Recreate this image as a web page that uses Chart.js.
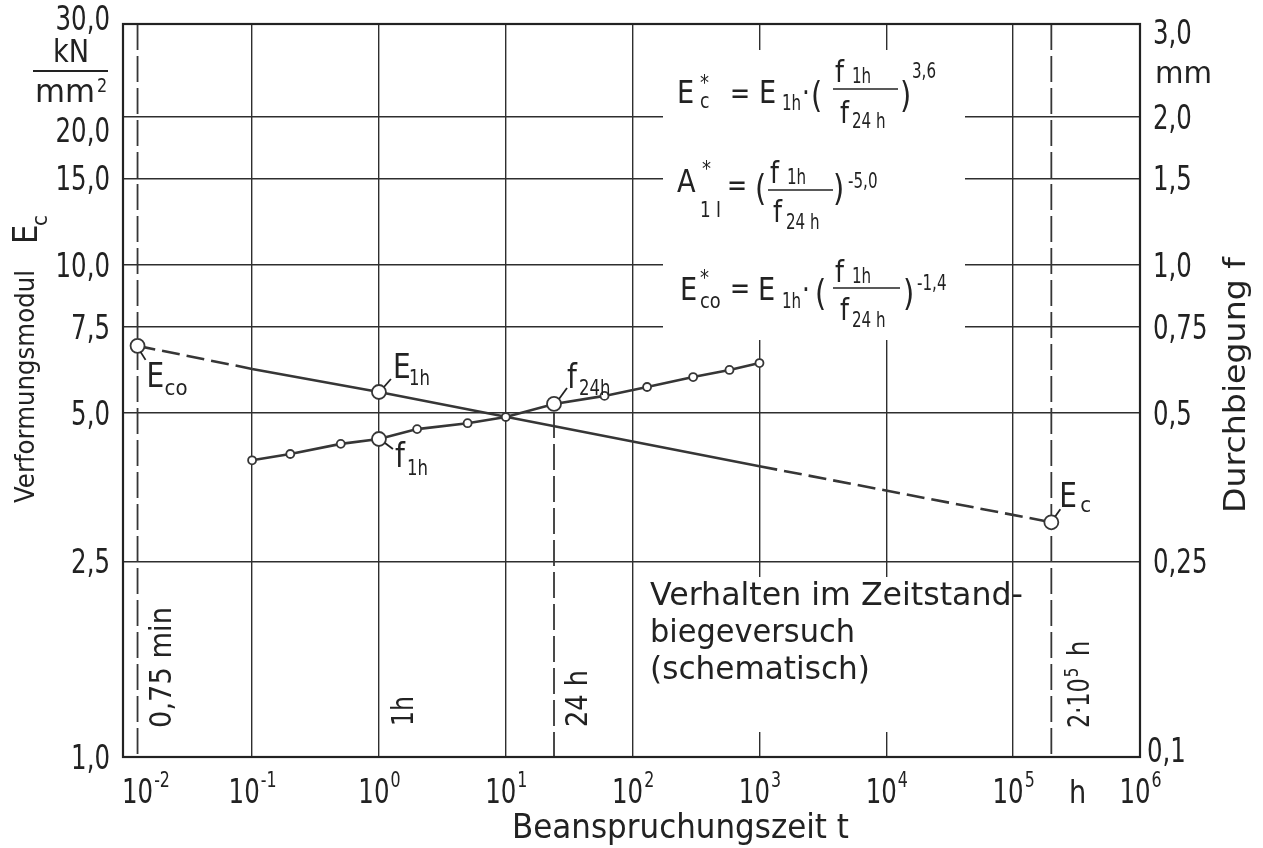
<!DOCTYPE html>
<html>
<head>
<meta charset="utf-8">
<script src="https://cdn.jsdelivr.net/npm/chart.js@4.4.1/dist/chart.umd.min.js"></script>
<style>
  html, body { margin: 0; padding: 0; background: #fff; }
  #wrap { width: 1263px; height: 848px; }
</style>
</head>
<body>
<div id="wrap"><canvas id="c" width="1263" height="848"></canvas></div>
<script>
// Beanspruchungszeit t (h) of the measured deflections
const fTimes  = [0.1, 0.2, 0.5, 1, 2, 5, 10, 24, 60, 130, 300, 580, 1000];
// Durchbiegung f (mm)
const fValues = [0.401, 0.413, 0.433, 0.443, 0.464, 0.477, 0.491, 0.522, 0.542, 0.565, 0.592, 0.612, 0.632];
// times whose deflection is marked with a large circle (f_1h, f_24h)
const fKeyTimes = [1, 24];

// Verformungsmodul E_c (kN/mm²): E_co, start of test, E_1h, end of test, E_c
const eTimes  = [0.0125, 0.1, 1, 1000, 200000];
const eValues = [6.85, 6.15, 5.52, 3.90, 3.00];
const eKeyTimes = [0.0125, 1, 200000];

// test duration covered by measurements; outside it the modulus line is extrapolated
const testRange = [0.1, 1000];

// characteristic times: 0,75 min, 24 h, 2·10^5 h
const refTimes = [0.0125, 24, 200000];

// axes
const xGridValues = [0.1, 1, 10, 100, 1000, 10000, 100000];
const xTickExps   = [-2, -1, 0, 1, 2, 3, 4, 5, 6];
const eTicks      = [1, 2.5, 5, 7.5, 10, 15, 20, 30];
const eTickLabels = ['1,0', '2,5', '5,0', '7,5', '10,0', '15,0', '20,0', '30,0'];
const eGridValues = [2.5, 5, 7.5, 10, 15, 20];
const fTicks      = [0.1, 0.25, 0.5, 0.75, 1, 1.5, 2, 3];
const fTickLabels = ['0,1', '0,25', '0,5', '0,75', '1,0', '1,5', '2,0', '3,0'];

const INK = '#222';
const LINE = '#363636';
const FONT = '"DejaVu Sans", "Liberation Sans", sans-serif';

function put(ctx, str, x, y, size, o = {}) {
  ctx.save();
  ctx.font = `${size}px ${FONT}`;
  ctx.fillStyle = INK;
  ctx.textBaseline = 'alphabetic';
  ctx.translate(x, y);
  if (o.rot) ctx.rotate(o.rot);
  let sx = o.sx || 1;
  if (o.w) sx = o.w / ctx.measureText(str).width;
  ctx.scale(sx, 1);
  ctx.textAlign = o.align || 'left';
  ctx.fillText(str, 0, 0);
  const w = ctx.measureText(str).width * sx;
  ctx.restore();
  return w;
}

function seg(ctx, x1, y1, x2, y2, lw) {
  ctx.save();
  ctx.strokeStyle = INK;
  ctx.lineWidth = lw || 1.8;
  ctx.beginPath();
  ctx.moveTo(x1, y1);
  ctx.lineTo(x2, y2);
  ctx.stroke();
  ctx.restore();
}

// pieces: [text, dx, dy, size, sx]
function pieces(ctx, x0, y0, list) {
  list.forEach(p => put(ctx, p[0], x0 + p[1], y0 + p[2], p[3], { sx: p[4] || 0.82 }));
}

const framePlugin = {
  id: 'frame',
  beforeDatasetsDraw(chart) {
    const { ctx, chartArea: a, scales } = chart;
    // clear the grid behind the text blocks
    ctx.save();
    ctx.fillStyle = '#fff';
    ctx.fillRect(663, 50, 302, 290);
    ctx.fillRect(640, 577, 368, 155);
    ctx.restore();

    // characteristic times as dashed verticals
    const x = scales.x, yF = scales.yF;
    ctx.save();
    ctx.strokeStyle = LINE;
    ctx.lineWidth = 1.8;
    ctx.setLineDash([26, 6]);
    refTimes.forEach(t => {
      const px = x.getPixelForValue(t);
      let top = a.top;
      if (t === 24) top = yF.getPixelForValue(fValues[fTimes.indexOf(24)]) + 8;
      ctx.beginPath();
      ctx.moveTo(px, top);
      ctx.lineTo(px, a.bottom);
      ctx.stroke();
    });
    ctx.restore();

    // plot frame
    ctx.save();
    ctx.strokeStyle = INK;
    ctx.lineWidth = 2.2;
    ctx.strokeRect(a.left, a.top, a.right - a.left, a.bottom - a.top);
    ctx.restore();
  },
  afterDraw(chart) {
    const { ctx, scales } = chart;
    const x = scales.x, yE = scales.yE, yF = scales.yF;
    const S = 0.72; // narrow lettering for numerals

    // left axis numerals
    const leftShift = { 30: -12, 20: 13 };
    eTicks.forEach((v, i) => {
      const py = yE.getPixelForValue(v) + (leftShift[v] || 0);
      put(ctx, eTickLabels[i], 110, py + 12, 34, { sx: S, align: 'right' });
    });
    // unit kN/mm²
    put(ctx, 'kN', 71, 62, 32, { sx: 0.85, align: 'center' });
    seg(ctx, 33, 71, 108, 71, 2);
    put(ctx, 'mm', 35, 102, 32, { w: 60 });
    put(ctx, '2', 97, 92, 20, { sx: 0.8 });

    // right axis numerals
    const rightShift = { 3: 2, 0.1: -7 };
    fTicks.forEach((v, i) => {
      const py = yF.getPixelForValue(v) + (rightShift[v] || 0);
      put(ctx, fTickLabels[i], v === 0.1 ? 1147 : 1153, py + 12, 34, { sx: S });
    });
    put(ctx, 'mm', 1155, 83, 30, { w: 57 });

    // bottom axis numerals 10^n
    xTickExps.forEach(n => {
      const px = x.getPixelForValue(Math.pow(10, n));
      ctx.save();
      ctx.font = `34px ${FONT}`;
      const wb = ctx.measureText('10').width * S;
      ctx.font = `22px ${FONT}`;
      const we = ctx.measureText(String(n)).width * S;
      ctx.restore();
      let sx0 = px - (wb + we) / 2;
      if (n === -2) sx0 = 122;
      put(ctx, '10', sx0, 803, 34, { sx: S });
      put(ctx, String(n), sx0 + wb + 1, 787, 22, { sx: S });
    });
    put(ctx, 'h', 1069, 803, 32, { sx: 0.85 });

    // axis titles
    put(ctx, 'Beanspruchungszeit t', 512, 838, 34, { w: 337 });
    const up = -Math.PI / 2;
    put(ctx, 'Verformungsmodul', 34, 503, 27, { rot: up, w: 233 });
    put(ctx, 'E', 37, 244, 34, { rot: up, sx: 0.9 });
    put(ctx, 'c', 47, 226, 22, { rot: up, sx: 0.9 });
    put(ctx, 'Durchbiegung f', 1245, 513, 31, { rot: up, w: 256 });

    // characteristic time labels
    const r0 = x.getPixelForValue(refTimes[0]);
    const r1 = x.getPixelForValue(refTimes[1]);
    const r2 = x.getPixelForValue(refTimes[2]);
    put(ctx, '0,75 min', r0 + 33, 728, 31, { rot: up, w: 121 });
    put(ctx, '1h', x.getPixelForValue(1) + 34, 726, 31, { rot: up, w: 30 });
    put(ctx, '24 h', r1 + 33, 727, 31, { rot: up, w: 57 });
    const w2 = put(ctx, '2·10', r2 + 38, 728, 31, { rot: up, sx: 0.72 });
    put(ctx, '5', r2 + 27, 728 - w2 - 1, 20, { rot: up, sx: 0.75 });
    put(ctx, 'h', r2 + 38, 728 - w2 - 22, 31, { rot: up, sx: 0.8 });

    // point names with leader strokes
    const pE = i => ({ x: x.getPixelForValue(eTimes[i]), y: yE.getPixelForValue(eValues[i]) });
    const pF = t => ({ x: x.getPixelForValue(t), y: yF.getPixelForValue(fValues[fTimes.indexOf(t)]) });
    const eco = pE(0), e1 = pE(2), ec = pE(4), f1 = pF(1), f24 = pF(24);
    seg(ctx, eco.x + 3, eco.y + 6, eco.x + 8, eco.y + 14);
    put(ctx, 'E', eco.x + 9, eco.y + 41, 33, { sx: 0.85 });
    put(ctx, 'co', eco.x + 27, eco.y + 49, 22, { sx: 0.9 });
    seg(ctx, e1.x + 5, e1.y - 5, e1.x + 12, e1.y - 13);
    put(ctx, 'E', e1.x + 14, e1.y - 14, 33, { sx: 0.85 });
    put(ctx, '1h', e1.x + 30, e1.y - 7, 22, { sx: 0.75 });
    seg(ctx, f1.x + 6, f1.y + 4, f1.x + 14, f1.y + 10);
    put(ctx, 'f', f1.x + 16, f1.y + 28, 33, { sx: 0.85 });
    put(ctx, '1h', f1.x + 28, f1.y + 36, 22, { sx: 0.75 });
    seg(ctx, f24.x + 5, f24.y - 5, f24.x + 13, f24.y - 16);
    put(ctx, 'f', f24.x + 13, f24.y - 16, 33, { sx: 0.85 });
    put(ctx, '24h', f24.x + 25, f24.y - 9, 22, { sx: 0.75 });
    seg(ctx, ec.x + 4, ec.y - 6, ec.x + 9, ec.y - 13);
    put(ctx, 'E', ec.x + 8, ec.y - 15, 33, { sx: 0.85 });
    put(ctx, 'c', ec.x + 29, ec.y - 10, 22, { sx: 0.9 });

    // relations
    const frac = (x0, y0, x1) => seg(ctx, x0, y0, x1, y0, 1.6);
    pieces(ctx, 677, 103, [
      ['E', 0, 0, 32, 0.85], ['*', 23, -13, 22], ['c', 23, 5, 21], ['=', 53, 0, 30, 0.8],
      ['E', 82, 0, 32, 0.85], ['1h', 105, 7, 21, 0.72], ['·', 125, 0, 30], ['(', 134, 4, 36, 0.8],
      ['f', 158, -21, 30, 0.85], ['1h', 175, -20, 21, 0.72],
      ['f', 163, 20, 30, 0.85], ['24 h', 175, 25, 21, 0.72],
      [')', 223, 4, 36, 0.8], ['3,6', 235, -25, 21, 0.72]
    ]);
    frac(833, 89, 898);
    pieces(ctx, 677, 192, [
      ['A', 0, 0, 32, 0.85], ['*', 25, -16, 22], ['1 I', 23, 25, 21, 0.8], ['=', 50, 3, 30, 0.8],
      ['(', 78, 8, 36, 0.8],
      ['f', 93, -9, 30, 0.85], ['1h', 110, -8, 21, 0.72],
      ['f', 96, 30, 30, 0.85], ['24 h', 109, 37, 21, 0.72],
      [')', 156, 8, 36, 0.8], ['-5,0', 171, -4, 21, 0.72]
    ]);
    frac(768, 190, 833);
    pieces(ctx, 680, 300, [
      ['E', 0, 0, 32, 0.85], ['*', 20, -15, 22], ['co', 20, 8, 21, 0.85], ['=', 50, -2, 30, 0.8],
      ['E', 78, 0, 32, 0.85], ['1h', 102, 8, 21, 0.72], ['·', 122, 0, 30], ['(', 135, 5, 36, 0.8],
      ['f', 155, -18, 30, 0.85], ['1h', 172, -17, 21, 0.72],
      ['f', 160, 20, 30, 0.85], ['24 h', 172, 27, 21, 0.72],
      [')', 223, 5, 36, 0.8], ['-1,4', 237, -10, 21, 0.72]
    ]);
    frac(833, 288, 900);

    // test description
    put(ctx, 'Verhalten im Zeitstand-', 650, 605, 32, { w: 373 });
    put(ctx, 'biegeversuch', 650, 642, 32, { w: 205 });
    put(ctx, '(schematisch)', 650, 679, 32, { w: 220 });
  }
};

const inTest = t => t >= testRange[0] && t <= testRange[1];

new Chart(document.getElementById('c'), {
  type: 'line',
  data: {
    datasets: [
      {
        label: 'Durchbiegung f',
        yAxisID: 'yF',
        data: fTimes.map((t, i) => ({ x: t, y: fValues[i] })),
        borderColor: LINE,
        borderWidth: 2.6,
        pointRadius: fTimes.map(t => fKeyTimes.includes(t) ? 7 : 4),
        pointBackgroundColor: '#fff',
        pointBorderColor: LINE,
        pointBorderWidth: 1.8,
        tension: 0,
        order: 0
      },
      {
        label: 'Verformungsmodul E_c',
        yAxisID: 'yE',
        data: eTimes.map((t, i) => ({ x: t, y: eValues[i] })),
        borderColor: LINE,
        borderWidth: 2.6,
        pointRadius: eTimes.map(t => eKeyTimes.includes(t) ? 7 : 0),
        pointBackgroundColor: '#fff',
        pointBorderColor: LINE,
        pointBorderWidth: 1.8,
        tension: 0,
        order: 1,
        segment: {
          borderDash: c => (inTest(c.p0.parsed.x) && inTest(c.p1.parsed.x)) ? undefined : [18, 7]
        }
      }
    ]
  },
  options: {
    responsive: false,
    animation: false,
    devicePixelRatio: 1,
    layout: { padding: { top: 24, left: 0, right: 0, bottom: 0 } },
    plugins: { legend: { display: false }, tooltip: { enabled: false } },
    scales: {
      x: {
        type: 'logarithmic',
        position: 'bottom',
        min: 0.0096,
        max: 1e6,
        afterBuildTicks: s => { s.ticks = xGridValues.map(v => ({ value: v })); },
        afterFit: s => { s.height = 91; },
        ticks: { display: false },
        grid: { color: '#2e2e2e', lineWidth: 1.4, drawTicks: false },
        border: { display: false }
      },
      yE: {
        type: 'logarithmic',
        position: 'left',
        min: 1,
        max: 30.9,
        afterBuildTicks: s => { s.ticks = eGridValues.map(v => ({ value: v })); },
        afterFit: s => { s.width = 123; },
        ticks: { display: false },
        grid: { color: '#2e2e2e', lineWidth: 1.4, drawTicks: false },
        border: { display: false }
      },
      yF: {
        type: 'logarithmic',
        position: 'right',
        min: 0.1,
        max: 3.09,
        afterBuildTicks: s => { s.ticks = fTicks.map(v => ({ value: v })); },
        afterFit: s => { s.width = 123; },
        ticks: { display: false },
        grid: { display: false, drawTicks: false },
        border: { display: false }
      }
    }
  },
  plugins: [framePlugin]
});
</script>
</body>
</html>
